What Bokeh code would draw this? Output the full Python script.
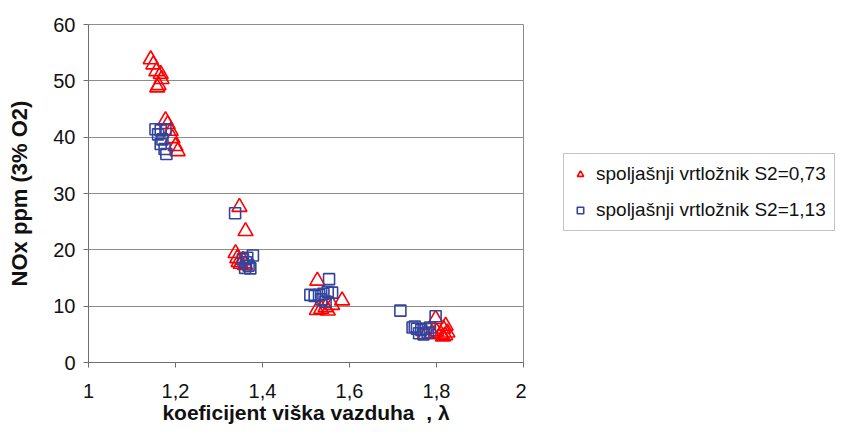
from bokeh.plotting import figure
from bokeh.layouts import row
from bokeh.models import Legend, LegendItem, FixedTicker, Range1d
from bokeh.embed import file_html
from bokeh.resources import INLINE

# Series: spoljašnji vrtložnik S2=0,73 (red triangles)
red_x = [1.143, 1.149, 1.156, 1.166, 1.168, 1.161, 1.158,
         1.177, 1.182, 1.189, 1.193, 1.200, 1.205,
         1.347, 1.361, 1.338, 1.342, 1.345, 1.350, 1.355, 1.360,
         1.526, 1.583, 1.525, 1.535, 1.545, 1.550, 1.560,
         1.798, 1.821, 1.816, 1.775, 1.790, 1.800, 1.810, 1.820, 1.825, 1.815]
red_y = [53.8, 52.9, 51.7, 51.2, 50.3, 49.2, 48.8,
         43.0, 42.3, 41.1, 39.8, 38.4, 37.5,
         27.6, 23.3, 19.4, 18.5, 17.8, 17.5, 18.2, 17.3,
         14.5, 11.0, 9.3, 9.5, 9.8, 9.2, 10.2,
         7.7, 6.5, 6.0, 5.0, 5.2, 5.5, 5.0, 4.8, 5.3, 4.6]

# Series: spoljašnji vrtložnik S2=1,13 (blue squares)
blue_x = [1.154, 1.166, 1.177, 1.160, 1.170, 1.166, 1.175, 1.179,
          1.337, 1.355, 1.362, 1.368, 1.372, 1.365, 1.378, 1.360,
          1.553, 1.510, 1.520, 1.530, 1.540, 1.550, 1.560, 1.535, 1.545,
          1.717, 1.798, 1.745, 1.755, 1.765, 1.775, 1.785, 1.760, 1.770, 1.780, 1.750]
blue_y = [41.4, 41.2, 41.4, 40.5, 39.6, 38.8, 37.9, 37.0,
          26.5, 18.3, 17.8, 17.2, 16.7, 18.6, 19.0, 16.8,
          14.8, 12.0, 11.8, 12.0, 12.2, 12.5, 12.4, 11.2, 10.8,
          9.2, 8.2, 6.2, 6.0, 5.8, 6.0, 6.2, 5.2, 5.0, 5.3, 6.4]

series_labels = ["spoljašnji vrtložnik S2=0,73", "spoljašnji vrtložnik S2=1,13"]
x_ticks = [1.0, 1.2, 1.4, 1.6, 1.8, 2.0]
x_tick_labels = ["1", "1,2", "1,4", "1,6", "1,8", "2"]
y_ticks = [0, 10, 20, 30, 40, 50, 60]
x_title = "koeficijent viška vazduha\u00a0\u00a0, λ"
y_title = "NOx ppm (3% O2)"

FONT = "Liberation Sans"
RED = "#ff0000"
BLUE = "#33449c"

p = figure(width=526, height=431, output_backend="svg", toolbar_location=None,
           x_range=Range1d(1, 2), y_range=Range1d(0, 60),
           min_border_left=88, min_border_top=24, min_border_right=3,
           min_border_bottom=69)
p.background_fill_color = "white"
p.border_fill_color = "white"
p.outline_line_color = "#8c8c8c"
p.outline_line_width = 1

p.xgrid.grid_line_color = None
p.ygrid.grid_line_color = "#8c8c8c"
p.ygrid.grid_line_width = 1

p.xaxis.ticker = FixedTicker(ticks=x_ticks)
p.xaxis.major_label_overrides = dict(zip(x_ticks, x_tick_labels))
p.yaxis.ticker = FixedTicker(ticks=y_ticks)

for ax in (p.xaxis, p.yaxis):
    ax.axis_line_color = "#6e6e6e"
    ax.major_tick_line_color = "#6e6e6e"
    ax.major_tick_out = 5
    ax.major_tick_in = 0
    ax.minor_tick_line_color = None
    ax.major_label_text_font = FONT
    ax.major_label_text_font_size = "20px"
    ax.major_label_text_color = "#111111"
    ax.axis_label_text_font = FONT
    ax.axis_label_text_font_style = "bold"
    ax.axis_label_text_color = "#111111"

p.xaxis.axis_label = x_title
p.yaxis.axis_label = y_title
p.xaxis.axis_label_text_font_size = "21px"
p.yaxis.axis_label_text_font_size = "22px"
p.xaxis.major_label_standoff = 16
p.xaxis.axis_label_standoff = 0
p.yaxis.major_label_standoff = 8
p.yaxis.axis_label_standoff = 18

p.scatter(red_x, red_y, marker="triangle", size=15, fill_color=None,
          line_color=RED, line_width=1.6)
p.scatter(blue_x, blue_y, marker="square", size=11, fill_color=None,
          line_color=BLUE, line_width=1.6)

# legend panel to the right of the plot area (series drawn outside its view)
p2 = figure(width=313, height=431, output_backend="svg", toolbar_location=None,
            x_axis_type=None, y_axis_type=None, x_range=Range1d(0, 1),
            y_range=Range1d(0, 1), min_border=0)
p2.outline_line_color = None
p2.xgrid.grid_line_color = None
p2.ygrid.grid_line_color = None
g1 = p2.scatter(red_x, red_y, marker="triangle", size=13, fill_color=None,
                line_color=RED, line_width=1.6)
g2 = p2.scatter(blue_x, blue_y, marker="square", size=10, fill_color=None,
                line_color=BLUE, line_width=1.6)

legend = Legend(items=[LegendItem(label=series_labels[0], renderers=[g1]),
                       LegendItem(label=series_labels[1], renderers=[g2])],
                location=(37, 131))
legend.label_text_font = FONT
legend.label_text_font_size = "19px"
legend.label_text_color = "#111111"
legend.border_line_color = "#8c8c8c"
legend.border_line_width = 1
legend.background_fill_color = "white"
legend.background_fill_alpha = 1
legend.padding = 8
legend.spacing = 12
legend.glyph_width = 16
legend.glyph_height = 24
legend.label_height = 24
legend.label_standoff = 8
legend.margin = 0
p2.add_layout(legend, "center")

layout = row(p, p2, spacing=0)
open("out.html", "w").write(file_html(layout, INLINE))
